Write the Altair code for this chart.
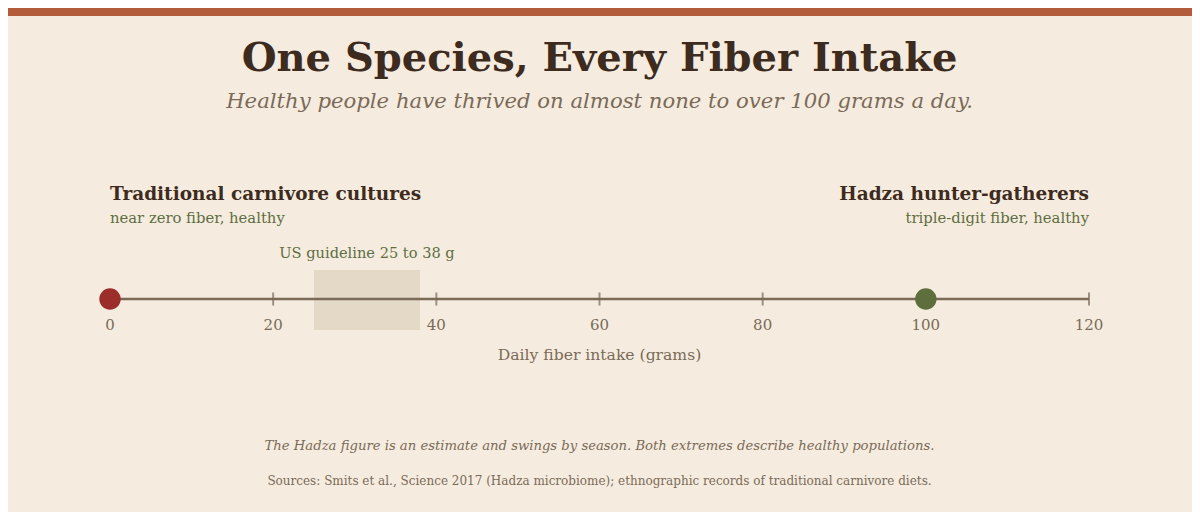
import altair as alt
import pandas as pd

# Data
groups = ["Traditional carnivore cultures", "Hadza hunter-gatherers"]
fiber = [0, 100]
notes = ["near zero fiber, healthy", "triple-digit fiber, healthy"]
label_at = [0, 120]
dot_colors = ["#9b2d2a", "#5e6e3c"]
guide_low = [25]
guide_high = [38]
guide_text = ["US guideline 25 to 38 g"]
tick_values = [0, 20, 40, 60, 80, 100, 120]

BG = "#f5ecdf"
DARK = "#3d2b20"
MUTED = "#7a6a58"
OLIVE = "#5f6e42"
FONT = "Georgia, 'DejaVu Serif', serif"

W, H = 979, 504

people = pd.DataFrame({"group": groups, "fiber": fiber, "note": notes,
                       "at": label_at, "color": dot_colors})
guide = pd.DataFrame({"lo": guide_low, "hi": guide_high, "label": guide_text})
ticks = pd.DataFrame({"v": tick_values})
ticks["label"] = ticks["v"].astype(str)

xs = alt.Scale(domain=[0, 120], nice=False, zero=False)
base = alt.Chart(people)

# top stripe
stripe = alt.Chart(pd.DataFrame({"k": [0]})).mark_rect(color="#b35c3c").encode(
    x=alt.value(-102), x2=alt.value(W + 103), y=alt.value(0), y2=alt.value(8)
)

title = alt.Chart(pd.DataFrame({"t": ["One Species, Every Fiber Intake"]})).mark_text(
    font=FONT, fontSize=40, fontWeight="bold", color=DARK, baseline="alphabetic"
).encode(x=alt.value(W / 2), y=alt.value(63), text="t:N")

subtitle = alt.Chart(pd.DataFrame({"t": ["Healthy people have thrived on almost none to over 100 grams a day."]})).mark_text(
    font=FONT, fontSize=21.2, fontStyle="italic", color=MUTED, baseline="alphabetic"
).encode(x=alt.value(W / 2), y=alt.value(100), text="t:N")

# guideline band
band = alt.Chart(guide).mark_rect(color="#e4d8c6").encode(
    x=alt.X("lo:Q", scale=xs, axis=None), x2="hi:Q",
    y=alt.value(262), y2=alt.value(322)
)
band_label = alt.Chart(guide).transform_calculate(mid="(datum.lo + datum.hi) / 2").mark_text(
    font=FONT, fontSize=14.6, color=OLIVE, baseline="alphabetic"
).encode(x=alt.X("mid:Q", scale=xs), y=alt.value(250), text="label:N")

# axis
axis_line = alt.Chart(pd.DataFrame({"a": [tick_values[0]], "b": [tick_values[-1]]})).mark_rule(
    color=MUTED, strokeWidth=2.5
).encode(x=alt.X("a:Q", scale=xs), x2="b:Q", y=alt.value(291))

tick_marks = alt.Chart(ticks).mark_tick(
    color=MUTED, orient="vertical", size=13, thickness=2
).encode(x=alt.X("v:Q", scale=xs), y=alt.value(291))

tick_labels = alt.Chart(ticks).mark_text(
    font=FONT, fontSize=15, color=MUTED, baseline="alphabetic"
).encode(x=alt.X("v:Q", scale=xs), y=alt.value(322), text="label:N")

axis_title = alt.Chart(pd.DataFrame({"t": ["Daily fiber intake (grams)"]})).mark_text(
    font=FONT, fontSize=15.6, color=MUTED, baseline="alphabetic"
).encode(x=alt.value(W / 2), y=alt.value(352), text="t:N")

dots = base.mark_circle(size=460, opacity=1).encode(
    x=alt.X("fiber:Q", scale=xs), y=alt.value(291),
    color=alt.Color("color:N", scale=None)
)

# group labels
left = base.transform_filter(alt.datum.at == 0)
right = base.transform_filter(alt.datum.at == 120)
name_l = left.mark_text(font=FONT, fontSize=18.5, fontWeight="bold", color=DARK,
                        align="left", baseline="alphabetic").encode(
    x=alt.X("at:Q", scale=xs), y=alt.value(192), text="group:N")
note_l = left.mark_text(font=FONT, fontSize=14.8, color=OLIVE,
                        align="left", baseline="alphabetic").encode(
    x=alt.X("at:Q", scale=xs), y=alt.value(215), text="note:N")
name_r = right.mark_text(font=FONT, fontSize=18.5, fontWeight="bold", color=DARK,
                         align="right", baseline="alphabetic").encode(
    x=alt.X("at:Q", scale=xs), y=alt.value(192), text="group:N")
note_r = right.mark_text(font=FONT, fontSize=14.8, color=OLIVE,
                         align="right", baseline="alphabetic").encode(
    x=alt.X("at:Q", scale=xs), y=alt.value(215), text="note:N")

footnote = alt.Chart(pd.DataFrame({"t": ["The Hadza figure is an estimate and swings by season. Both extremes describe healthy populations."]})).mark_text(
    font=FONT, fontSize=13.2, fontStyle="italic", color=MUTED, baseline="alphabetic"
).encode(x=alt.value(W / 2), y=alt.value(442), text="t:N")

sources = alt.Chart(pd.DataFrame({"t": ["Sources: Smits et al., Science 2017 (Hadza microbiome); ethnographic records of traditional carnivore diets."]})).mark_text(
    font=FONT, fontSize=12, color=MUTED, baseline="alphabetic"
).encode(x=alt.value(W / 2), y=alt.value(477), text="t:N")

chart = alt.layer(
    stripe, title, subtitle, band, band_label, axis_line, tick_marks, tick_labels,
    axis_title, dots, name_l, note_l, name_r, note_r, footnote, sources
).properties(
    width=W, height=H,
    autosize=alt.AutoSizeParams(type="none"),
    padding={"left": 102, "right": 103, "top": 0, "bottom": 0},
    background=BG
).configure_view(stroke=None)

chart.save("out.html", embed_options={"renderer": "svg", "actions": False})
